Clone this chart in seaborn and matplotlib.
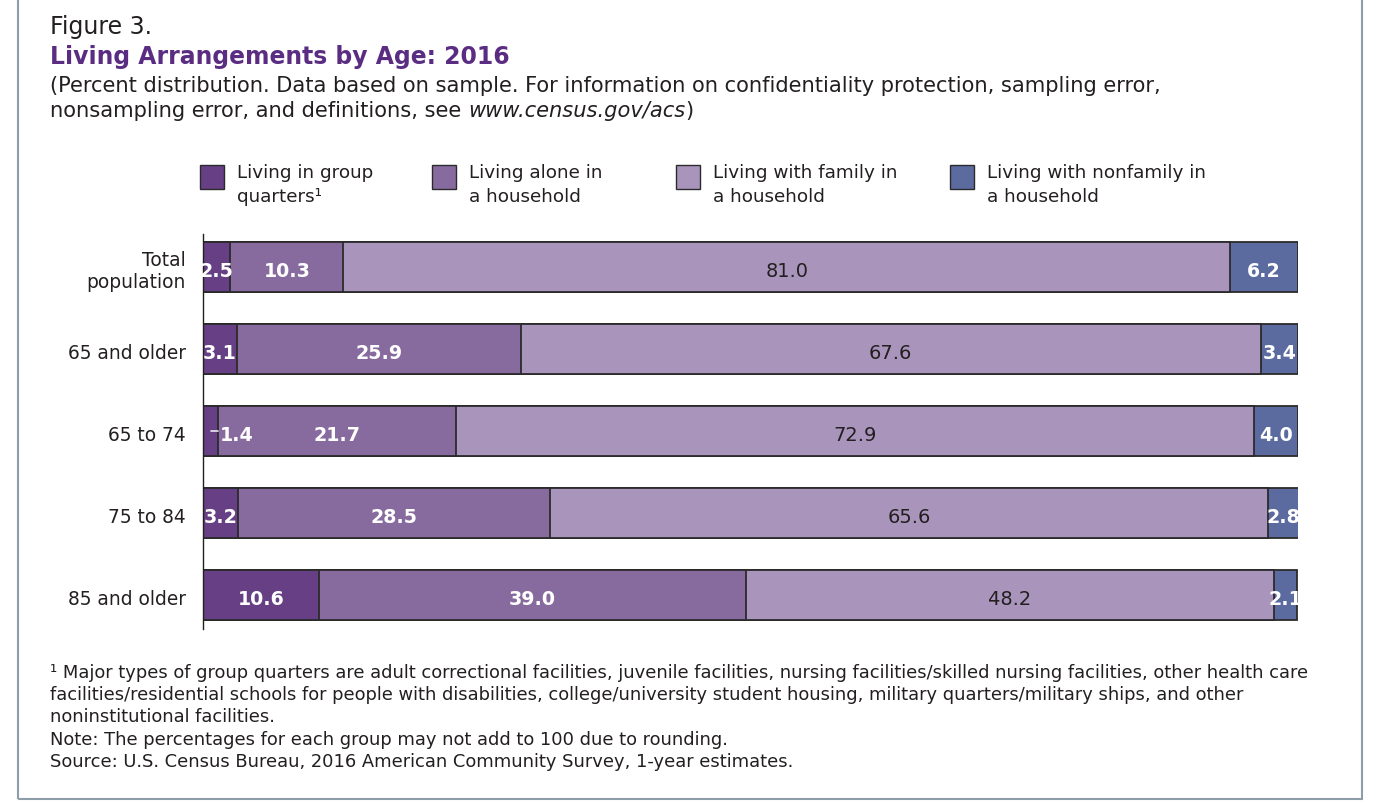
import numpy as np
import pandas as pd
import matplotlib.pyplot as plt
from matplotlib.patches import Rectangle
import seaborn as sns

groups = ["Total\npopulation", "65 and older", "65 to 74", "75 to 84", "85 and older"]
group_quarters = [2.5, 3.1, 1.4, 3.2, 10.6]
alone = [10.3, 25.9, 21.7, 28.5, 39.0]
family = [81.0, 67.6, 72.9, 65.6, 48.2]
nonfamily = [6.2, 3.4, 4.0, 2.8, 2.1]

series_names = ["Living in group\nquarters¹", "Living alone in\na household",
                "Living with family in\na household", "Living with nonfamily in\na household"]
colors = ["#673f85", "#886b9e", "#a994bb", "#5b6a9f"]
label_colors = ["white", "white", "#231f20", "white"]
label_weights = ["bold", "bold", "normal", "bold"]

fig_label = "Figure 3."
title = "Living Arrangements by Age: 2016"
subtitle1 = ("(Percent distribution. Data based on sample. For information on "
             "confidentiality protection, sampling error,")
subtitle2 = "nonsampling error, and definitions, see "
url = "www.census.gov/acs"
footnotes = [
    "¹ Major types of group quarters are adult correctional facilities, juvenile facilities, nursing facilities/skilled nursing facilities, other health care",
    "facilities/residential schools for people with disabilities, college/university student housing, military quarters/military ships, and other",
    "noninstitutional facilities.",
    "Note: The percentages for each group may not add to 100 due to rounding.",
    "Source: U.S. Census Bureau, 2016 American Community Survey, 1-year estimates.",
]

sns.set_style("white")
plt.rcParams['font.family'] = ['DejaVu Sans']
text_color = "#231f20"

W, H = 1376, 804
fig = plt.figure(figsize=(W / 100, H / 100), dpi=100)
renderer = fig.canvas.get_renderer()


def fx(x):
    return x / W


def fy(y):
    return 1 - y / H


def fit_size(s, target_px, **kw):
    # font size that makes s about target_px wide (the original uses a wider face)
    t = fig.text(0, 0, s, fontsize=10, **kw)
    w = t.get_window_extent(renderer).width
    t.remove()
    return 10 * target_px / w


fig_size = fit_size(fig_label, 102)
title_size = fit_size(title, 460, fontweight="bold")
sub_size = fit_size(subtitle1, 1118)
foot_size = fit_size(footnotes[0], 1256)
cat_size = fit_size("65 and older", 118)
leg_size = fit_size("Living with nonfamily in", 220)
num_bold = fit_size("25.9", 47, fontweight="bold")
num_reg = fit_size("67.6", 43)

# bar rows sit at 268 + 82*r px
top_px, bot_px = 235, 630
ax = fig.add_axes([fx(203), fy(bot_px), fx(1298) - fx(203), fy(top_px) - fy(bot_px)])

df = pd.DataFrame({"group": groups, "gq": group_quarters, "alone": alone,
                   "family": family, "nonfamily": nonfamily})
cols = ["gq", "alone", "family", "nonfamily"]
cum = df[cols].cumsum(axis=1)

# draw cumulative totals back to front so the segments stack
for i in range(len(cols) - 1, -1, -1):
    sns.barplot(x=cum[cols[i]], y=df["group"], orient="h", color=colors[i],
                edgecolor="#2b2b2b", linewidth=1.3, width=0.61, saturation=1,
                ax=ax)

ax.set_xlim(0, 100)
ax.set_ylim((bot_px - 268) / 82, (top_px - 268) / 82)
ax.set_xlabel("")
ax.set_ylabel("")
ax.set_xticks([])
ax.tick_params(axis="y", length=0, labelleft=False)
for s in ["top", "right", "bottom"]:
    ax.spines[s].set_visible(False)
ax.spines["left"].set_color("#231f20")
ax.spines["left"].set_linewidth(1.0)

base_off = 9 / 82
line_gap = 22 / 82
for r, g in enumerate(groups):
    lines = g.split("\n")
    n = len(lines)
    for k, ln in enumerate(lines):
        ax.text(-1.55, r + base_off + (k - (n - 1) / 2) * line_gap, ln, ha="right",
                va="baseline", fontsize=cat_size, color=text_color)

# segment labels
for r in range(len(groups)):
    left = 0
    for i, c in enumerate(cols):
        v = df.loc[r, c]
        size = num_bold if label_weights[i] == "bold" else num_reg
        if i == 0 and v < 2:
            ax.plot([left + v - 0.7, left + v - 0.05], [r, r], color="#ece6f0", lw=1.2)
            ax.text(left + v + 0.15, r + base_off, f"{v:.1f}", ha="left", va="baseline",
                    color=label_colors[i], fontsize=size, fontweight=label_weights[i])
        else:
            ax.text(left + v / 2, r + base_off, f"{v:.1f}", ha="center", va="baseline",
                    color=label_colors[i], fontsize=size, fontweight=label_weights[i])
        left += v

# legend
leg_x = [200, 432, 676, 950]
for i, name in enumerate(series_names):
    fig.add_artist(Rectangle((fx(leg_x[i]), fy(189.5)), 24 / W, 24 / H,
                             transform=fig.transFigure, facecolor=colors[i],
                             edgecolor="#2b2b2b", linewidth=1))
    for j, ln in enumerate(name.split("\n")):
        fig.text(fx(leg_x[i] + 37), fy(178.5 + j * 23.3), ln, ha="left", va="baseline",
                 fontsize=leg_size, color=text_color)

# header
fig.text(fx(50), fy(34.3), fig_label, fontsize=fig_size, color=text_color, va="baseline")
fig.text(fx(50), fy(64.3), title, fontsize=title_size, fontweight="bold",
         color="#5a2d82", va="baseline")
fig.text(fx(50), fy(92.3), subtitle1, fontsize=sub_size, color=text_color, va="baseline")
t = fig.text(fx(50), fy(117.5), subtitle2, fontsize=sub_size, color=text_color,
             va="baseline")
x_end = t.get_window_extent(renderer).x1
t = fig.text(x_end / W, fy(117.5), url, fontsize=sub_size, style="italic",
             color=text_color, va="baseline")
x_end = t.get_window_extent(renderer).x1
fig.text(x_end / W, fy(117.5), ")", fontsize=sub_size, color=text_color, va="baseline")

# footnotes
for k, line in enumerate(footnotes):
    fig.text(fx(50), fy(677.7 + k * 22.4), line, fontsize=foot_size, color=text_color,
             va="baseline")

# frame
fig.add_artist(Rectangle((fx(18), fy(800)), (1362 - 18) / W, 810 / H,
                         transform=fig.transFigure, facecolor="none",
                         edgecolor="#8d9eab", linewidth=1.5))

fig.savefig("out.png", dpi=100)
